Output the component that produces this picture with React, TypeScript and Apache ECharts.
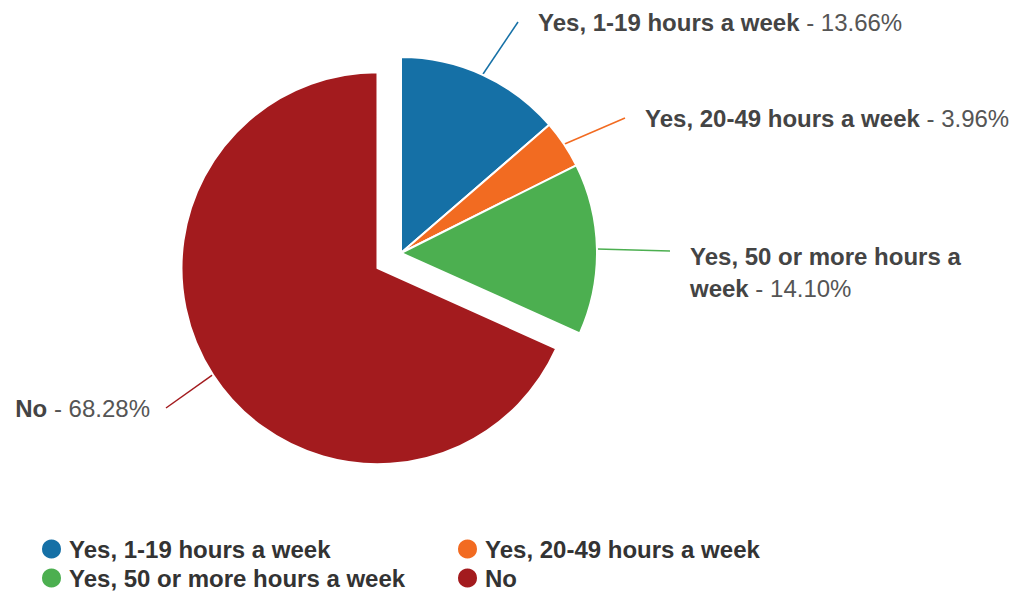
import React, { useEffect, useRef } from "react";
import * as echarts from "echarts";

const categories = [
  "Yes, 1-19 hours a week",
  "Yes, 20-49 hours a week",
  "Yes, 50 or more hours a week",
  "No",
];
const values = [13.66, 3.96, 14.1, 68.28];
const colors = ["#1570a6", "#f26b21", "#4caf50", "#a31b1e"];
// label anchor positions [x, y, align]
const labelPos: [number, number, string][] = [
  [518, 22, "left"],
  [625, 118, "left"],
  [670, 251, "left"],
  [166, 408, "right"],
];
const labelPadding = [
  [0, 0, 0, 20],
  [0, 0, 0, 20],
  [42, 0, 0, 20],
  [0, 16, 0, 0],
];

export default function App() {
  const ref = useRef<HTMLDivElement>(null);
  useEffect(() => {
    document.body.style.margin = "0";
    const chart = echarts.init(ref.current!, undefined, { renderer: "svg" });
    const font = "'Liberation Sans', Arial, Helvetica, sans-serif";
    const legendBase = {
      orient: "vertical",
      top: 537,
      height: 60,
      padding: 0,
      icon: "circle",
      itemWidth: 21,
      itemHeight: 21,
      itemGap: 5,
      selectedMode: false,
      textStyle: { fontFamily: font, fontSize: 24, fontWeight: "bold", color: "#333", padding: [0, 0, 0, 2] },
    };
    const legendItem = (i: number) => ({ name: categories[i], itemStyle: { color: colors[i] } });

    const total = values.reduce((a, b) => a + b, 0);
    const yesShare = (values[0] + values[1] + values[2]) / total;
    const splitAngle = 90 - 360 * yesShare;
    // exploded "No" slice: shift its centre outward along its mid-angle
    const center: [number, number] = [401, 253];
    const explode = 28;
    const midRad = ((splitAngle + (90 - 360)) / 2) * (Math.PI / 180);
    const noCenter = [center[0] + Math.cos(midRad) * explode, center[1] - Math.sin(midRad) * explode];

    const label = {
      show: true,
      fontFamily: font,
      fontSize: 24,
      color: "#555",
      lineHeight: 32,
      formatter: (p: any) => {
        const v = p.value.toFixed(2) + "%";
        if (p.name === categories[2]) {
          const name: string = p.name;
          const i = name.lastIndexOf(" ");
          return `{b|${name.slice(0, i)}}\n{b|${name.slice(i + 1)}} - ${v}`;
        }
        return `{b|${p.name}} - ${v}`;
      },
      rich: {
        b: { fontFamily: font, fontSize: 24, fontWeight: "bold", color: "#444", lineHeight: 32 },
      },
    };
    const mkLayout = (offset: number) => (params: any) => {
      const p = labelPos[params.dataIndex + offset];
      return { x: p[0], y: p[1], align: p[2], verticalAlign: "middle" };
    };
    const common = {
      type: "pie",
      radius: 196,
      clockwise: true,
      silent: true,
      itemStyle: { borderColor: "#ffffff", borderWidth: 2 },
      label,
      labelLine: { show: true, length: 15, length2: 0, smooth: 0.4, lineStyle: { width: 1.5 } },
    };
    chart.setOption({
      animation: false,
      backgroundColor: "#ffffff",
      color: colors,
      legend: [
        { ...legendBase, data: [legendItem(0), legendItem(2)], left: 40 },
        { ...legendBase, data: [legendItem(1), legendItem(3)], left: 456 },
      ],
      series: [
        {
          ...common,
          name: "Yes",
          center,
          startAngle: 90,
          endAngle: splitAngle,
          labelLayout: mkLayout(0),
          data: [0, 1, 2].map((i) => ({
            name: categories[i],
            value: values[i],
            itemStyle: { color: colors[i] },
            label: { padding: labelPadding[i] },
          })),
        },
        {
          ...common,
          name: "No",
          center: noCenter,
          startAngle: splitAngle,
          endAngle: 90 - 360,
          labelLayout: mkLayout(3),
          data: [3].map((i) => ({
            name: categories[i],
            value: values[i],
            itemStyle: { color: colors[i] },
            label: { padding: labelPadding[i] },
          })),
        },
      ],
    });
    return () => chart.dispose();
  }, []);
  return <div ref={ref} style={{ width: 1027, height: 592 }} />;
}
